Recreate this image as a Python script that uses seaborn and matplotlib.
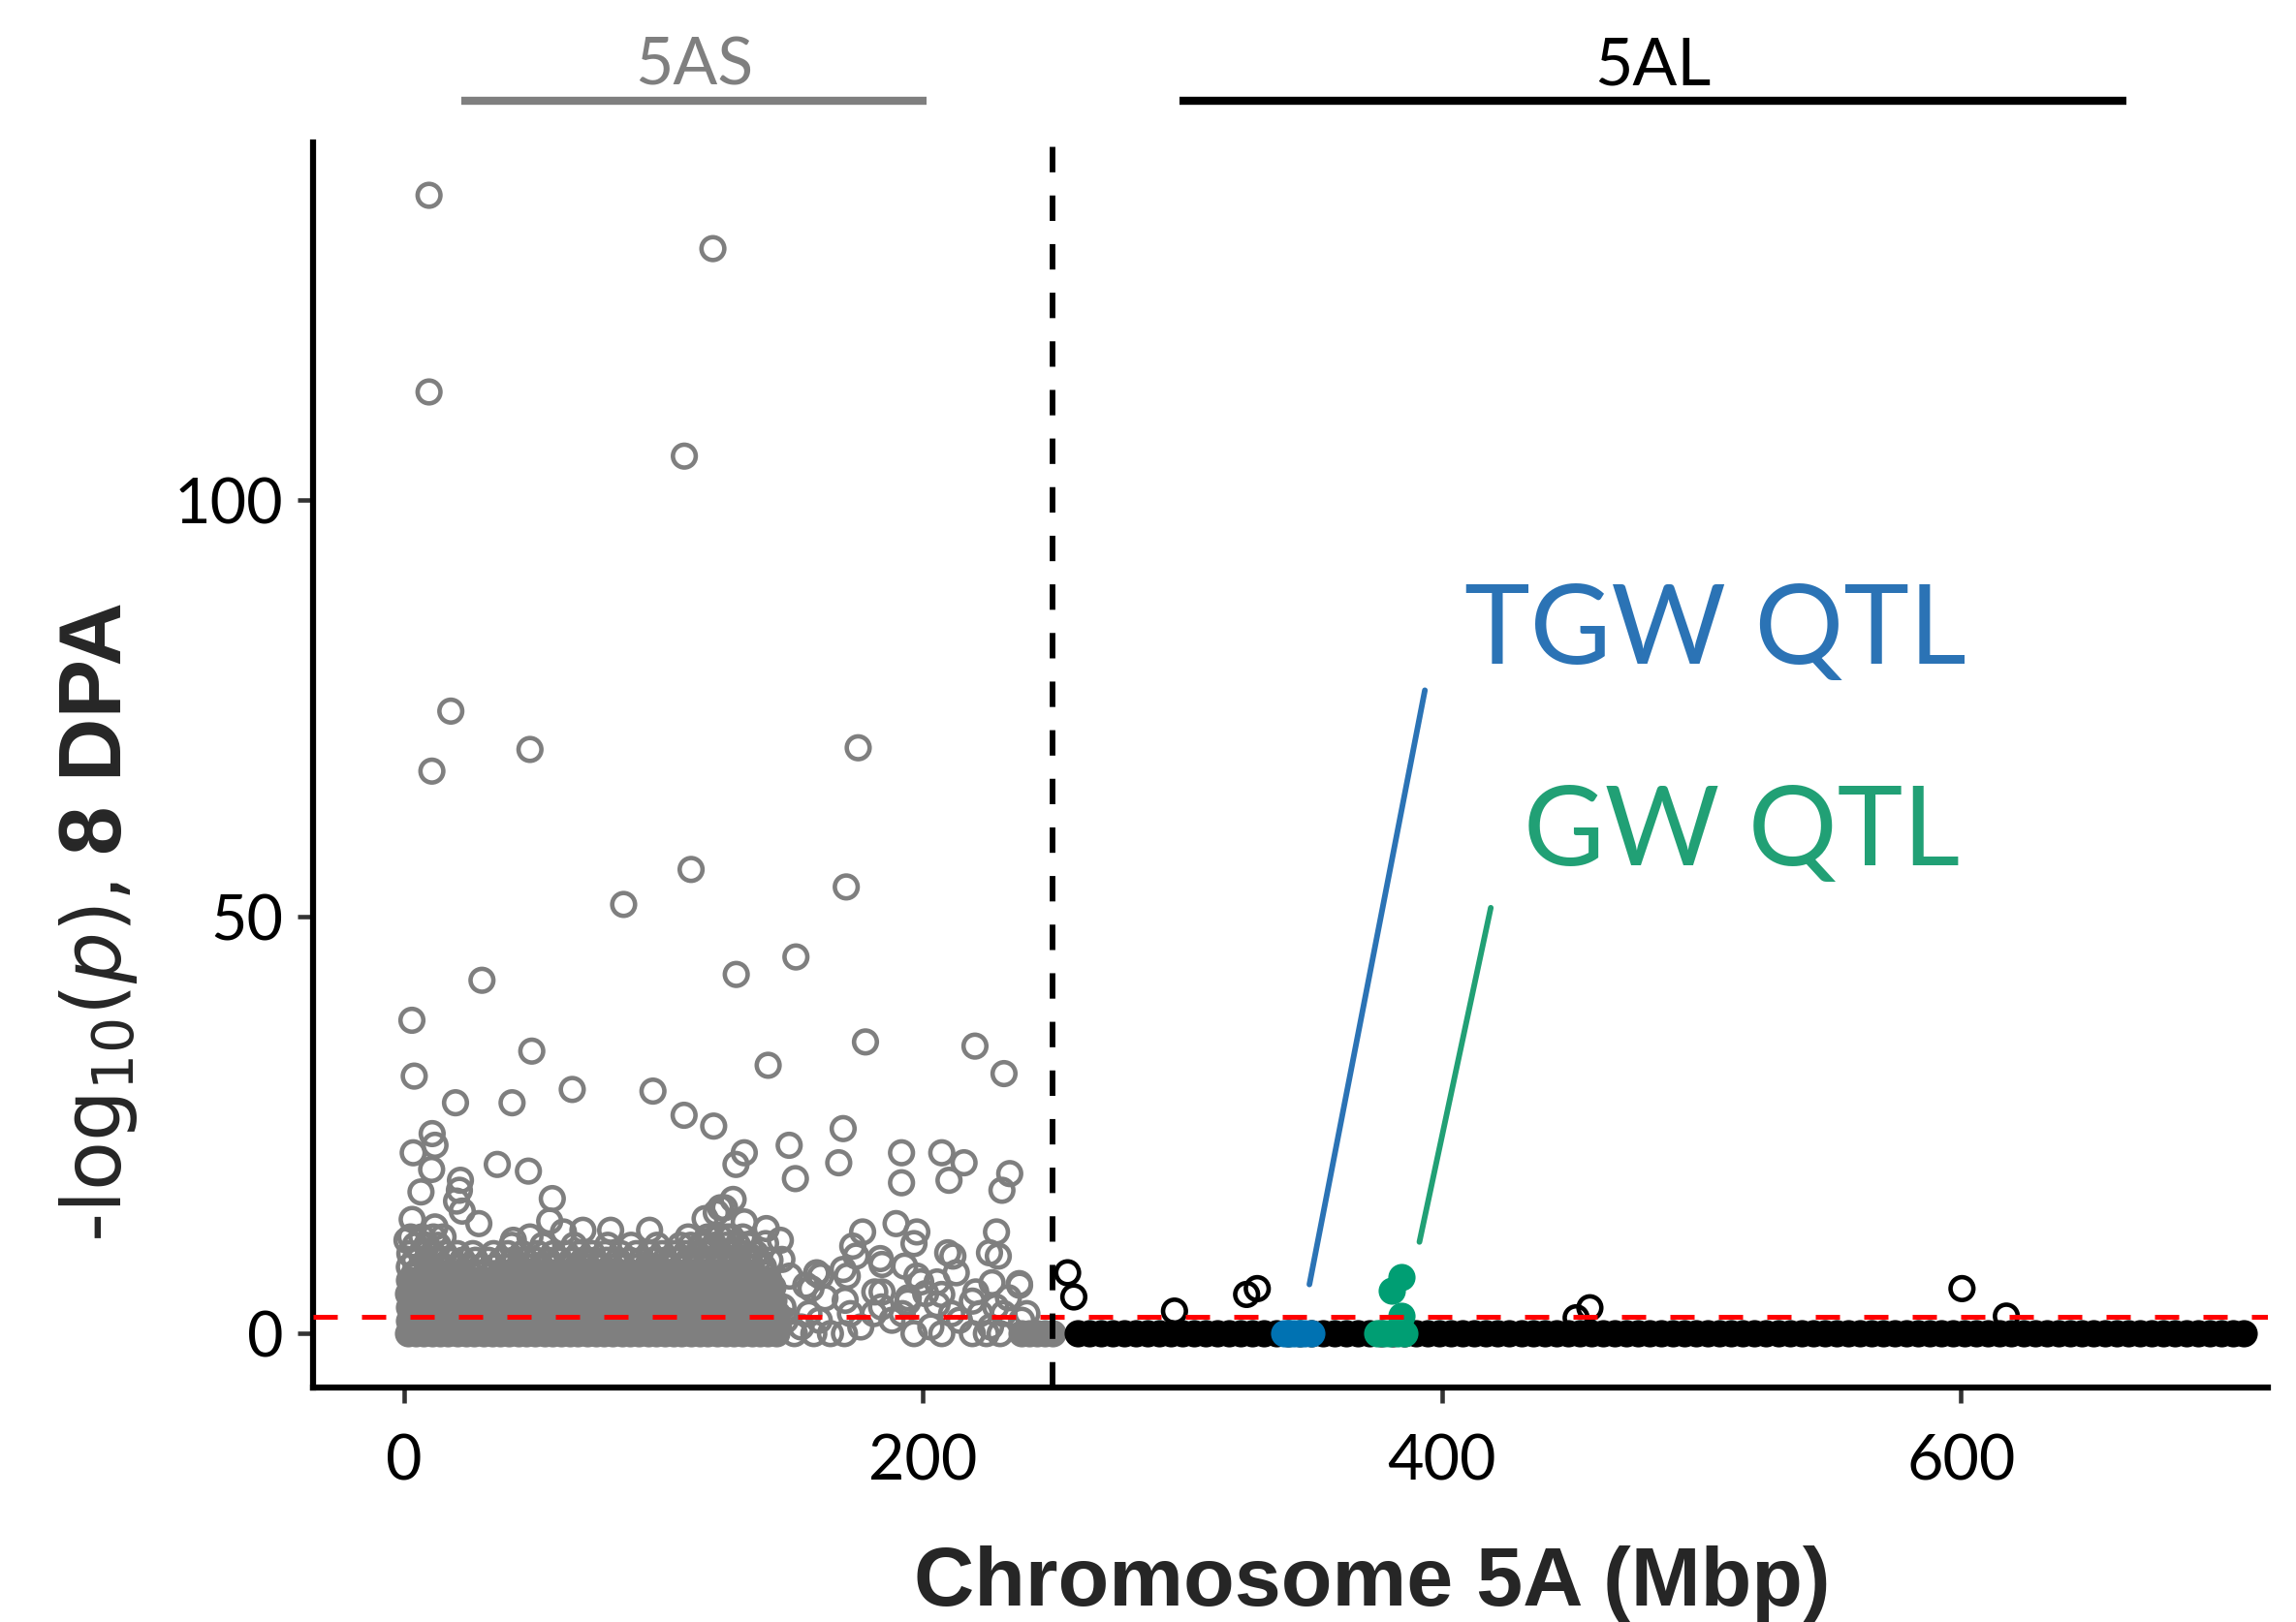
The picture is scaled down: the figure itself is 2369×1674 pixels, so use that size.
import numpy as np
import pandas as pd
import matplotlib
matplotlib.use("Agg")
import matplotlib.pyplot as plt
import seaborn as sns

# ---------------------------------------------------------------- data
# 5AS (short arm) – scattered SNPs, position (Mbp) and -log10(p)
as_top_pos = [9.6, 119, 9.6, 108, 18, 10.7, 48.5, 175, 110.6, 84.6, 170.4, 151,
              30, 128, 3, 49.2, 177.8, 220, 140.3, 3.9, 231.2, 19.8, 41.6, 64.8,
              95.9, 107.9, 119.3, 169.2]
as_top_logp = [136.6, 130.2, 113, 105.3, 74.7, 67.5, 70.1, 70.3, 55.7, 51.5, 53.6, 45.2,
               42.4, 43.1, 37.6, 33.9, 35.0, 34.5, 32.2, 30.9, 31.2, 27.7, 27.7, 29.3,
               29.1, 26.2, 24.9, 24.6]

as_mid_pos = [10.8, 11.9, 3.5, 10.6, 6.5, 21.7, 21.3, 20.2, 22.4, 28.8, 35.9, 47.9,
              57.1, 56.1, 3.1, 131.1, 127.9, 148.4, 150.8, 167.5, 191.7, 191.7, 207.2,
              215.8, 210, 233.4, 230.4, 228.3, 126.8, 123.5, 120.3, 116, 131.1, 139.6,
              145, 189.6, 197.6, 196.5, 176.7, 172.9, 94.6, 79.6, 68.9, 61.4, 48.5,
              42.1, 11.9, 1.1, 115, 209.5, 225.6, 237.2, 183.5, 197.6, 181.4, 194.3,
              207.2, 219, 232.9, 159, 156.8, 162.2, 170.8, 184.2, 192.9, 199.1, 211.5,
              229, 237.1, 226.6, 220.3, 212.8, 205.4, 194.1, 205.4, 184.2, 174.2,
              169.2, 160.5, 154.8, 148.6, 145.6, 139.3, 133.1, 124.4, 121.9]
as_mid_logp = [24.0, 22.6, 21.7, 19.7, 17.0, 18.4, 17.2, 15.9, 14.7, 13.2, 20.3, 19.5,
               16.2, 13.5, 13.7, 21.7, 20.3, 22.6, 18.6, 20.5, 21.7, 18.1, 21.7,
               20.5, 18.4, 19.2, 17.2, 12.2, 16.1, 15.1, 14.5, 13.8, 13.4, 12.6,
               11.2, 13.2, 12.2, 10.8, 12.2, 10.5, 12.4, 12.4, 12.4, 12.2, 11.6,
               11.2, 12.8, 11.2, 10.8, 9.7, 9.7, 5.8, 9.0, 6.9, 5.0, 4.3,
               4.7, 3.9, 4.3, 7.3, 5.4, 4.3, 6.9, 8.3, 8.1, 6.2, 9.3,
               9.3, 6.0, 6.1, 5.0, 7.3, 6.2, 3.8, 3.5, 5.0, 9.3,
               7.7, 6.9, 5.8, 6.9, 8.9, 10.8, 9.3, 11.6, 15.1]

# sparse low-significance 5AS markers beyond the dense block
as_low_pos = [150.4, 157.9, 164.3, 169.7, 196.5, 207.2, 219, 224.4, 229.7,
              153, 176, 203, 226, 147, 160, 188, 214, 238,
              156, 172, 181, 192, 211, 222, 231, 240, 146, 184, 228, 170, 201, 159]
as_low_logp = [0, 0, 0, 0, 0, 0, 0, 0, 0,
               0.8, 0.8, 0.8, 0.8, 1.6, 1.6, 1.6, 1.6, 1.6,
               2.4, 2.4, 2.4, 2.4, 2.4, 2.4, 2.4, 2.4, 3.2, 3.2, 3.2, 4.0, 4.8, 7.2]

# dense (heavily overplotted) block of 5AS: one row of positions per -log10(p) level
as_dense_logp = [0.0, 0.8, 1.6, 2.4, 3.2, 4.0, 4.8, 5.6, 6.4, 7.2, 8.0, 8.8, 9.6,
                 10.6, 11.6]
as_dense_pos = [
    [1.5, 4.5, 7.5, 11, 14, 17, 20.5, 24, 27, 30.5, 34, 37, 40.5, 44, 47, 50.5, 54,
     57, 60.5, 64, 67, 70.5, 74, 77, 80.5, 84, 87, 90.5, 94, 97, 100.5, 104, 107,
     110.5, 114, 117, 120.5, 124, 127, 130.5, 134, 137, 140, 143.5],
    [3.3, 7.8, 12.4, 16.7, 21.4, 25.6, 30.3, 34.7, 39.1, 43.8, 48.0, 52.6, 57.2,
     61.5, 66.1, 70.6, 74.9, 79.5, 84.0, 88.4, 92.9, 97.3, 101.8, 106.2, 110.7,
     115.1, 119.6, 124.0, 128.5, 132.9, 137.4, 142.0],
    [1.7, 5.8, 10.1, 14.5, 18.9, 23.2, 27.7, 32.1, 36.6, 40.9, 45.3, 49.8, 54.1,
     58.6, 63.0, 67.4, 71.8, 76.3, 80.7, 85.1, 89.6, 94.0, 98.4, 102.9, 107.3,
     111.7, 116.2, 120.6, 125.0, 129.5, 133.9, 138.3, 142.5],
    [3.6, 8.1, 12.3, 16.8, 21.1, 25.7, 30.0, 34.5, 38.8, 43.3, 47.6, 52.1, 56.4,
     60.9, 65.2, 69.7, 74.0, 78.5, 82.8, 87.3, 91.6, 96.1, 100.4, 104.9, 109.2,
     113.7, 118.0, 122.5, 126.8, 131.3, 135.6, 140.1, 144],
    [1.9, 6.1, 10.4, 14.6, 19.0, 23.3, 27.6, 32.0, 36.3, 40.7, 45.0, 49.4, 53.7,
     58.1, 62.4, 66.8, 71.1, 75.5, 79.8, 84.2, 88.5, 92.9, 97.2, 101.6, 105.9,
     110.3, 114.6, 119.0, 123.3, 127.7, 132.0, 136.4, 140.7],
    [3.8, 8.2, 12.5, 16.9, 21.2, 25.6, 29.9, 34.3, 38.6, 43.0, 47.3, 51.7, 56.0,
     60.4, 64.7, 69.1, 73.4, 77.8, 82.1, 86.5, 90.8, 95.2, 99.5, 103.9, 108.2,
     112.6, 116.9, 121.3, 125.6, 130.0, 134.3, 138.7, 142.5],
    [1.6, 6.0, 10.3, 14.7, 19.0, 23.4, 27.7, 32.1, 36.4, 40.8, 45.1, 49.5, 53.8,
     58.2, 62.5, 66.9, 71.2, 75.6, 79.9, 84.3, 88.6, 93.0, 97.3, 101.7, 106.0,
     110.4, 114.7, 119.1, 123.4, 127.8, 132.1, 136.5, 140.3],
    [3.7, 8.1, 12.4, 16.8, 21.1, 25.5, 29.8, 34.2, 38.5, 42.9, 47.2, 51.6, 55.9,
     60.3, 64.6, 69.0, 73.3, 77.7, 82.0, 86.4, 90.7, 95.1, 99.4, 103.8, 108.1,
     112.5, 116.8, 121.2, 125.5, 129.9, 134.2, 138.6, 142],
    [1.8, 6.2, 10.5, 14.9, 19.2, 23.6, 27.9, 32.3, 36.6, 41.0, 45.3, 49.7, 54.0,
     58.4, 62.7, 67.1, 71.4, 75.8, 80.1, 84.5, 88.8, 93.2, 97.5, 101.9, 106.2,
     110.6, 114.9, 119.3, 123.6, 128.0, 132.3, 136.7, 140.5],
    [3.9, 8.3, 12.6, 17.0, 21.3, 25.7, 30.0, 34.4, 38.7, 43.1, 47.4, 51.8, 56.1,
     60.5, 64.8, 69.2, 73.5, 77.9, 82.2, 86.6, 90.9, 95.3, 99.6, 104.0, 108.3,
     112.7, 117.0, 121.4, 125.7, 130.1, 134.4, 138.8],
    [2.0, 6.4, 10.7, 15.1, 20.0, 24.5, 29.5, 35.0, 39.5, 44.0, 48.5, 53.0, 57.5,
     62.0, 66.5, 71.0, 75.5, 80.0, 84.5, 89.0, 93.5, 98.0, 102.5, 107.0, 111.5,
     116.0, 120.5, 125.0, 129.5, 134.0, 138.5],
    [4.1, 8.5, 12.8, 17.5, 22.5, 27.5, 32.5, 37.5, 42.0, 46.5, 51.0, 55.5, 60.0,
     64.5, 69.0, 73.5, 78.0, 82.5, 87.0, 91.5, 96.0, 100.5, 105.0, 109.5, 114.0,
     118.5, 123.0, 127.5, 132.0, 136.5, 141],
    [2.2, 6.6, 11.0, 15.5, 20.5, 26.5, 34.5, 40, 45.5, 51.5, 57.5, 62.5, 67.5, 72.5,
     77.5, 83.5, 89.5, 94.5, 99.5, 104.5, 108.5, 113, 117.5, 122, 126.5, 131, 135.5],
    [4.3, 8.7, 13.1, 41.5, 53.5, 65.5, 78.5, 87.5, 97.5, 106.5, 110.5, 115, 119.5,
     124, 128.5, 133],
    [2.5, 6.8, 11.3, 15.0, 109.5, 117, 121.5, 126, 130.5],
]
# rows of the block that are fully overplotted (render as solid)
n_solid_rows = 9

# near-centromere 5AS markers at -log10(p) = 0, packed into a solid strip
as_strip_pos = [238, 241, 244, 247, 250]
as_strip_logp = [0, 0, 0, 0, 0]

# 5AL (long arm) – scattered markers above zero
al_pos = [255.7, 258.1, 296.9, 324.7, 328.8, 457, 451.7, 600.4, 617.5]
al_logp = [7.3, 4.4, 2.7, 4.7, 5.4, 3.1, 1.9, 5.4, 2.1]
# 5AL markers at -log10(p) = 0 (continuous strip)
al_strip_pos = [259.5, 264, 268.5, 273, 277.5, 282, 286.5, 291, 295.5, 300, 304.5, 309,
                313.5, 318, 322.5, 327, 331.5, 336, 340.5, 345, 349.5, 354, 358.5, 363,
                367.5, 372, 376.5, 381, 385.5, 390, 394.5, 399, 403.5, 408, 412.5, 417,
                421.5, 426, 430.5, 435, 439.5, 444, 448.5, 453, 457.5, 462, 466.5, 471,
                475.5, 480, 484.5, 489, 493.5, 498, 502.5, 507, 511.5, 516, 520.5, 525,
                529.5, 534, 538.5, 543, 547.5, 552, 556.5, 561, 565.5, 570, 574.5, 579,
                583.5, 588, 592.5, 597, 601.5, 606, 610.5, 615, 619.5, 624, 628.5, 633,
                637.5, 642, 646.5, 651, 655.5, 660, 664.5, 669, 673.5, 678, 682.5, 687,
                691.5, 696, 700.5, 705, 709]
al_strip_logp = [0, 0, 0, 0, 0, 0, 0, 0, 0, 0, 0, 0, 0, 0, 0, 0, 0, 0, 0, 0, 0, 0, 0,
                 0, 0, 0, 0, 0, 0, 0, 0, 0, 0, 0, 0, 0, 0, 0, 0, 0, 0, 0, 0, 0, 0, 0,
                 0, 0, 0, 0, 0, 0, 0, 0, 0, 0, 0, 0, 0, 0, 0, 0, 0, 0, 0, 0, 0, 0, 0,
                 0, 0, 0, 0, 0, 0, 0, 0, 0, 0, 0, 0, 0, 0, 0, 0, 0, 0, 0, 0, 0, 0, 0,
                 0, 0, 0, 0, 0, 0, 0, 0, 0, 0, 0]

# QTL markers
tgw_pos = [339, 341, 343, 345, 347, 349.5]
tgw_logp = [0, 0, 0, 0, 0, 0]
gw_pos = [375, 377.5, 380, 383, 385.5, 384.5, 380.5, 384.5]
gw_logp = [0, 0, 0, 0, 0, 2.1, 5.2, 6.8]

# arm extents (Mbp) and significance threshold
arm_names = ["5AS", "5AL"]
arm_start = [22, 299]
arm_end = [201.5, 663.7]
threshold = 2
centromere = 250

x_ticks = [0, 200, 400, 600]
y_ticks = [0, 50, 100]

# ---------------------------------------------------------------- table
rows = []
for p, l in zip(as_top_pos + as_mid_pos + as_low_pos,
                as_top_logp + as_mid_logp + as_low_logp):
    rows.append((p, l, "5AS"))
for i, (lvl, plist) in enumerate(zip(as_dense_logp, as_dense_pos)):
    grp = "5AS_solid" if i < n_solid_rows else "5AS"
    for p in plist:
        rows.append((p, lvl, grp))
for p, l in zip(as_strip_pos, as_strip_logp):
    rows.append((p, l, "5AS_solid"))
for p, l in zip(al_pos, al_logp):
    rows.append((p, l, "5AL"))
for p, l in zip(al_strip_pos, al_strip_logp):
    rows.append((p, l, "5AL_solid"))
for p, l in zip(tgw_pos, tgw_logp):
    rows.append((p, l, "TGW"))
for p, l in zip(gw_pos, gw_logp):
    rows.append((p, l, "GW"))
df = pd.DataFrame(rows, columns=["pos", "logp", "group"])

# ---------------------------------------------------------------- style
sns.set_theme(style="ticks")
plt.rcParams["font.family"] = ["Lato", "DejaVu Sans"]
plt.rcParams["mathtext.fontset"] = "custom"
plt.rcParams["mathtext.rm"] = "DejaVu Sans"
plt.rcParams["mathtext.it"] = "DejaVu Sans:italic"
plt.rcParams["mathtext.bf"] = "DejaVu Sans:bold"

GRAY = "#7F7F7F"
BLUE_PT = "#0072B2"
GREEN_PT = "#009E73"
BLUE_T = "#2B73B5"
GREEN_T = "#21A075"

W, H, DPI = 2369, 1674, 300
fig = plt.figure(figsize=(W / DPI, H / DPI), dpi=DPI)
ax = fig.add_axes([323 / W, 1 - 1432 / H, (2340 - 323) / W, (1432 - 146.5) / H])

S = 32
LW = 1.1


def draw(group, edge, face, z):
    sub = df[df.group == group]
    sns.scatterplot(data=sub, x="pos", y="logp", ax=ax, s=S, facecolor=face,
                    edgecolor=edge, linewidth=LW, zorder=z, legend=False)


draw("5AS_solid", GRAY, GRAY, 2)
draw("5AS", GRAY, "none", 2.1)
draw("5AL_solid", "black", "black", 3)
draw("5AL", "black", "none", 3.1)
draw("TGW", BLUE_PT, BLUE_PT, 4)
draw("GW", GREEN_PT, GREEN_PT, 4)

ax.axhline(threshold, color="#FF0000", lw=1.2, dashes=(5, 5), zorder=6)
ax.axvline(centromere, color="black", lw=1.4, dashes=(4.5, 4.1), zorder=6)

ax.set_xlim(-35.1, 718.3)
ax.set_ylim(-6.47, 143.0)
ax.set_xticks(x_ticks)
ax.set_yticks(y_ticks)
ax.set_xticklabels([str(t) for t in x_ticks])
ax.set_yticklabels([str(t) for t in y_ticks])
ax.set_xlabel("")
ax.set_ylabel("")
sns.despine(ax=ax)
for sp in ["left", "bottom"]:
    ax.spines[sp].set_linewidth(1.5)
    ax.spines[sp].set_color("black")
ax.tick_params(axis="both", length=3.9, width=1.1, color="#333333",
               labelsize=15.5, labelcolor="black")
ax.tick_params(axis="x", pad=7.5)
ax.tick_params(axis="y", pad=3.5)

# arm bars above the panel
arm_colors = [GRAY, "black"]
for name, a0, a1, c in zip(arm_names, arm_start, arm_end, arm_colors):
    ax.plot([a0, a1], [147.9, 147.9], color=c, lw=2.0, clip_on=False,
            solid_capstyle="butt")
    ax.text((a0 + a1) / 2, 149.9, name, ha="center", va="baseline",
            color=c, fontsize=16.3, clip_on=False)

# QTL annotations
ax.plot([393.4, 348.9], [77.2, 5.9], color=BLUE_T, lw=1.4, zorder=5)
ax.plot([418.8, 391.3], [51.1, 11.0], color=GREEN_T, lw=1.4, zorder=5)
ax.text(408.7, 80.4, "TGW QTL", ha="left", va="baseline", fontsize=27.5,
        color=BLUE_T)
ax.text(431.5, 56.2, "GW QTL", ha="left", va="baseline", fontsize=27.5,
        color=GREEN_T)

# axis titles
fig.text(1416 / W, 1 - 1657 / H, "Chromosome 5A (Mbp)", ha="center",
         va="baseline", fontsize=20.7, fontweight="bold",
         family=["Liberation Sans", "DejaVu Sans"])
fig.text(125 / W, 1 - 1282 / H, r"-log$_{10}$($p$),", rotation=90,
         rotation_mode="anchor", ha="left", va="baseline", fontsize=20,
         family=["DejaVu Sans"])
fig.text(125 / W, 1 - 882 / H, "8 DPA", rotation=90, rotation_mode="anchor",
         ha="left", va="baseline", fontsize=21.8, fontweight="bold",
         family=["Liberation Sans", "DejaVu Sans"])

fig.savefig("out.png", dpi=DPI)
